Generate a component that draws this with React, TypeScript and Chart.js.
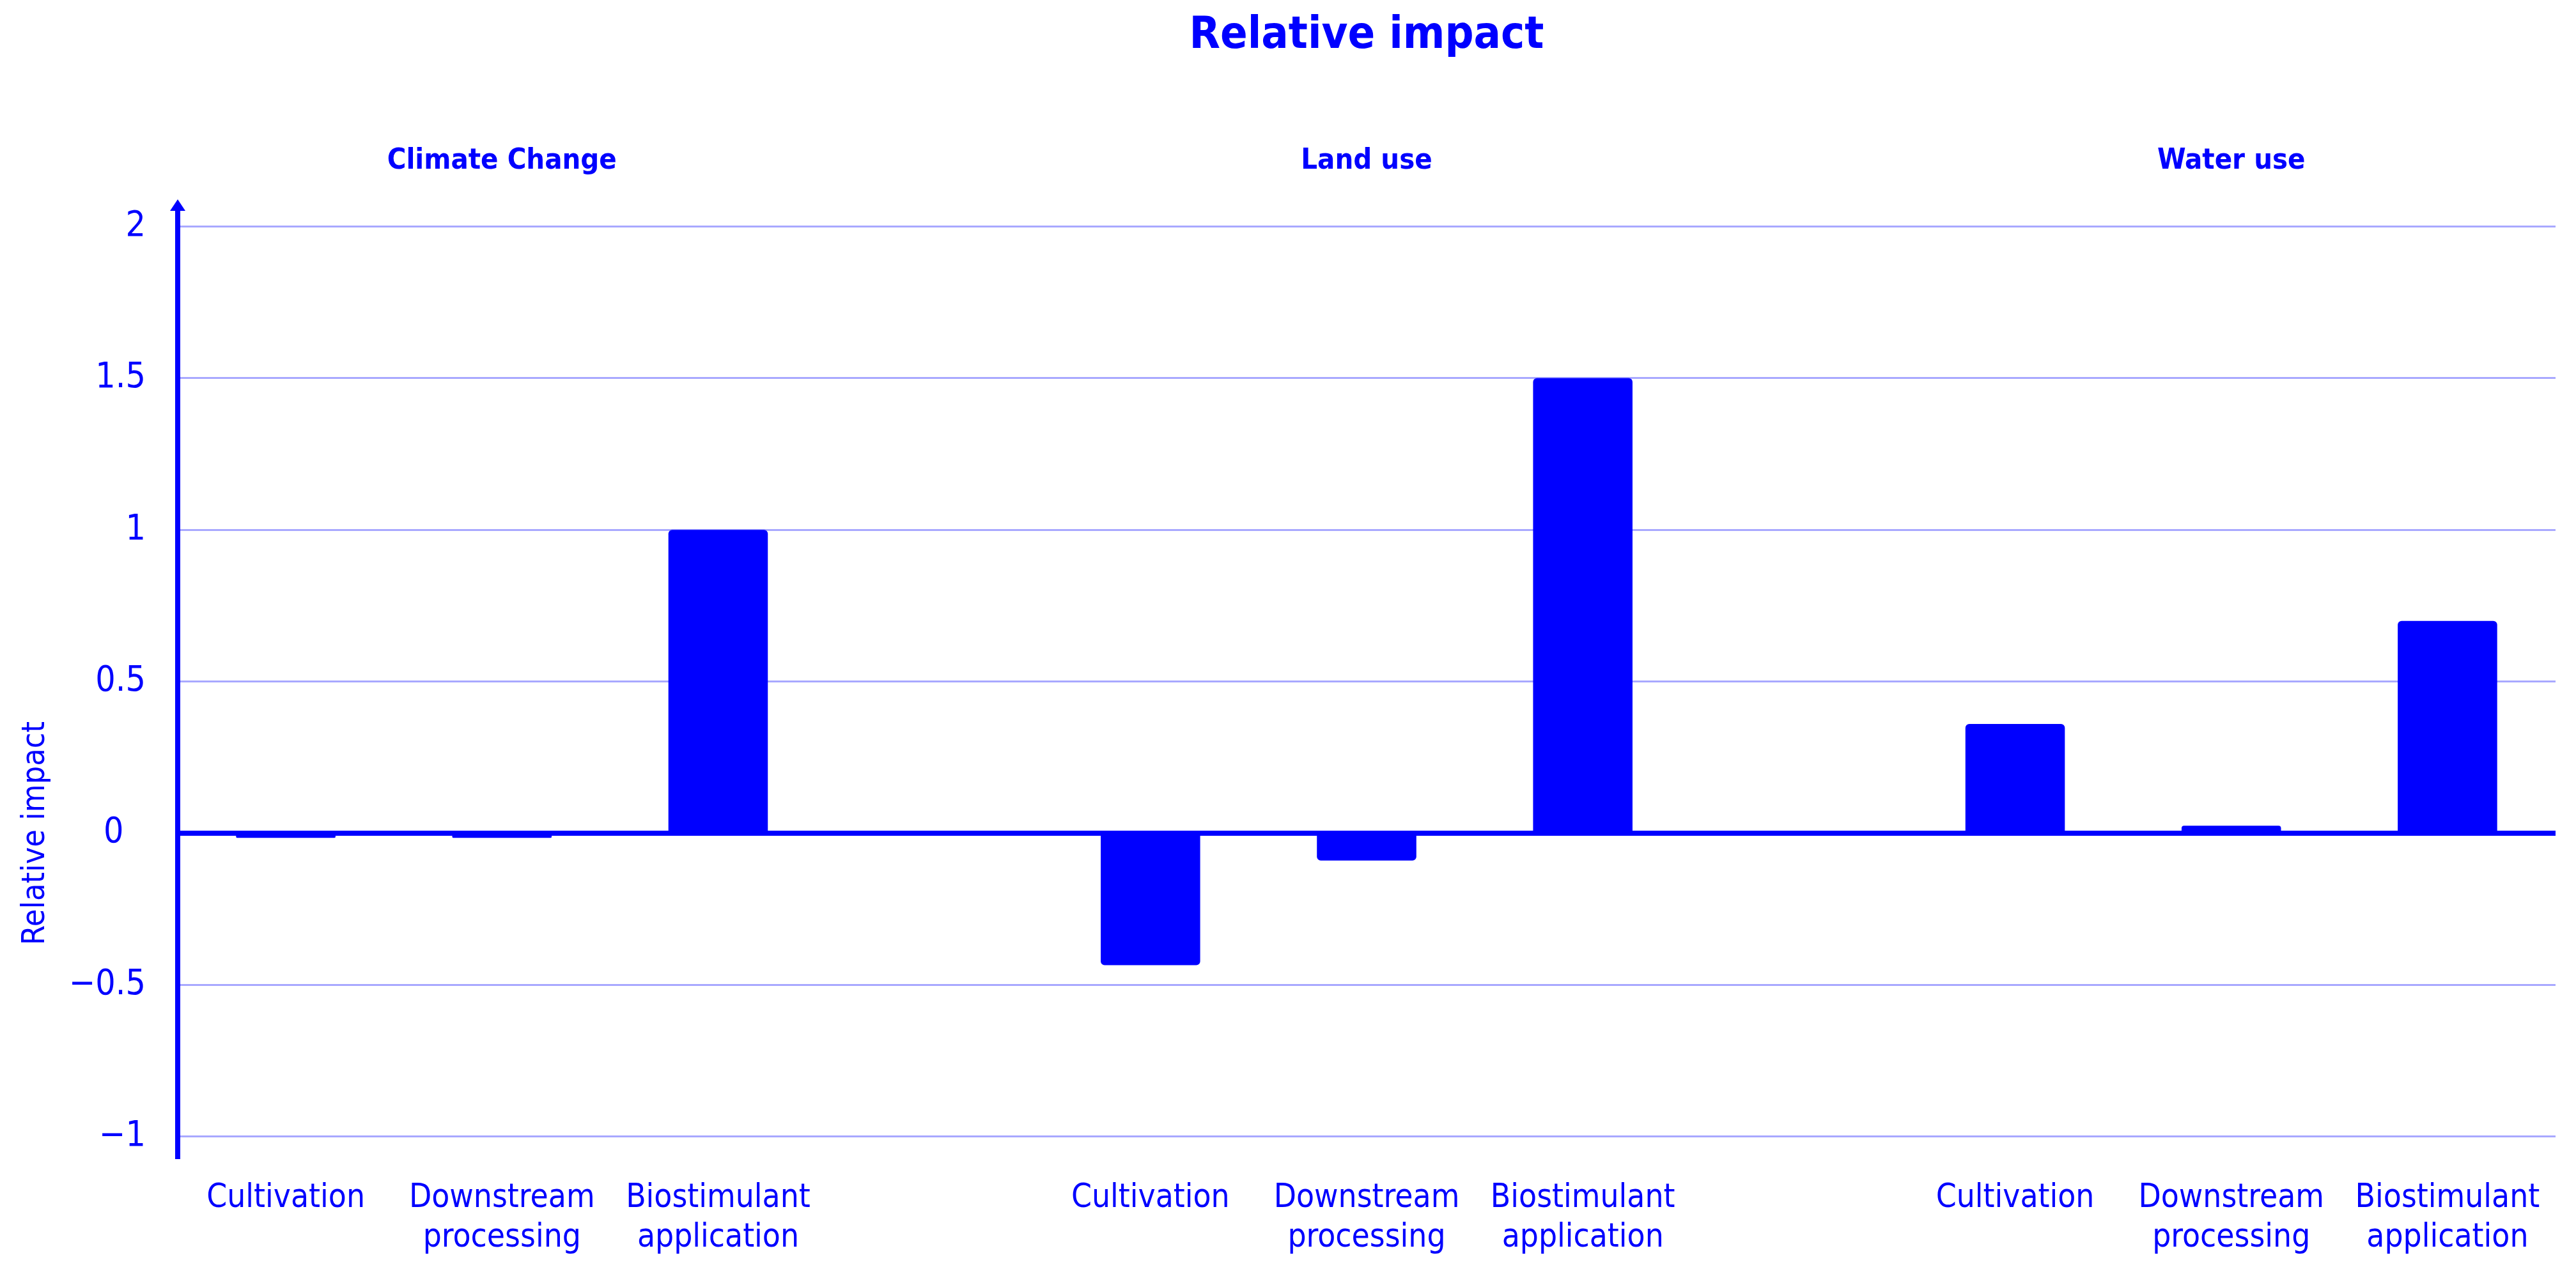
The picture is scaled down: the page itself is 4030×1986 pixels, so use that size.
import React, { useEffect, useRef } from 'react';
import { Chart, registerables } from 'chart.js';

Chart.register(...registerables);

const chartTitle = 'Relative impact';
const yAxisTitle = 'Relative impact';
const groupTitles = ['Climate Change', 'Land use', 'Water use'];
const stageLabels: (string | string[])[] = [
  'Cultivation',
  ['Downstream', 'processing'],
  ['Biostimulant', 'application'],
];
const climateChange = [-0.015, -0.015, 1.0];
const landUse = [-0.435, -0.09, 1.5];
const waterUse = [0.36, 0.025, 0.7];
const yTicks = [-1, -0.5, 0, 0.5, 1, 1.5, 2];

const BLUE = '#0000ff';
const GRID = '#a8a8ff';
const FONT = '"DejaVu Sans Condensed", "Liberation Sans Narrow", "DejaVu Sans", sans-serif';

const groupValues = [climateChange, landUse, waterUse];

function buildLabels(): (string | string[])[] {
  const out: (string | string[])[] = [];
  groupValues.forEach((_, g) => {
    if (g > 0) out.push('');
    stageLabels.forEach((l) => out.push(l));
  });
  return out;
}

function buildValues(): (number | null)[] {
  const out: (number | null)[] = [];
  groupValues.forEach((vals, g) => {
    if (g > 0) out.push(null);
    vals.forEach((v) => out.push(v));
  });
  return out;
}

const decorPlugin = {
  id: 'decor',
  afterDraw(chart: any) {
    const { ctx, scales } = chart;
    const xs = scales.x;
    const ys = scales.y;
    ctx.save();
    ctx.fillStyle = BLUE;
    // group subtitles over the middle bar of each group
    ctx.font = `bold 45px ${FONT}`;
    ctx.textAlign = 'center';
    ctx.textBaseline = 'alphabetic';
    groupTitles.forEach((t, g) => {
      const idx = g * (stageLabels.length + 1) + 1;
      ctx.fillText(t, xs.getPixelForValue(idx), 264);
    });
    // arrow head on the y axis
    const ax = ys.right;
    const top = chart.chartArea.top;
    ctx.beginPath();
    ctx.moveTo(ax, top - 14);
    ctx.lineTo(ax - 12, top + 4);
    ctx.lineTo(ax + 12, top + 4);
    ctx.closePath();
    ctx.fill();
    // y axis title centred on zero
    ctx.translate(56, ys.getPixelForValue(0));
    ctx.rotate(-Math.PI / 2);
    ctx.font = `50px ${FONT}`;
    ctx.textBaseline = 'middle';
    ctx.textAlign = 'center';
    ctx.fillText(yAxisTitle, 0, 0);
    ctx.restore();
  },
};

export default function App() {
  const ref = useRef<HTMLCanvasElement | null>(null);
  useEffect(() => {
    document.body.style.margin = '0';
    if (!ref.current) return;
    const chart = new Chart(ref.current, {
      type: 'bar',
      data: {
        labels: buildLabels(),
        datasets: [
          {
            data: buildValues(),
            backgroundColor: BLUE,
            borderRadius: 6,
            borderSkipped: 'start',
            barPercentage: 0.46,
            categoryPercentage: 1,
          },
        ],
      },
      options: {
        animation: false,
        responsive: true,
        maintainAspectRatio: false,
        layout: { padding: { left: 0, right: 32, top: 0, bottom: 22 } },
        plugins: {
          legend: { display: false },
          tooltip: { enabled: false },
          title: {
            display: true,
            fullSize: false,
            text: chartTitle,
            color: BLUE,
            font: { family: FONT, size: 70, weight: 'bold' },
            padding: { top: 15, bottom: 227 },
          },
        },
        scales: {
          x: {
            grid: { display: false, drawTicks: false },
            border: { display: false },
            afterFit: (scale: any) => {
              scale.height = 152;
            },
            ticks: {
              color: BLUE,
              font: { family: FONT, size: 51, lineHeight: 1.216 },
              padding: 33,
              maxRotation: 0,
              autoSkip: false,
            },
          },
          y: {
            min: -1.07,
            max: 2.06,
            afterBuildTicks: (scale: any) => {
              scale.ticks = yTicks.map((v) => ({ value: v }));
            },
            afterFit: (scale: any) => {
              scale.width = 278;
              scale.paddingTop = 0;
              scale.paddingBottom = 0;
            },
            grid: {
              drawTicks: false,
              color: (c: any) => (c.tick && c.tick.value === 0 ? BLUE : GRID),
              lineWidth: (c: any) => (c.tick && c.tick.value === 0 ? 8 : 3),
            },
            border: { display: true, color: BLUE, width: 8 },
            ticks: {
              color: BLUE,
              font: { family: FONT, size: 55 },
              padding: 50,
              callback: (v: any) =>
                v === 0 ? '0\u2002\u2009' : v < 0 ? '\u2212' + Math.abs(v) : String(v),
            },
          },
        },
      },
      plugins: [decorPlugin],
    });
    return () => chart.destroy();
  }, []);
  return (
    <div style={{ position: 'fixed', left: 0, top: 0, width: '100vw', height: '100vh' }}>
      <canvas ref={ref} />
    </div>
  );
}
